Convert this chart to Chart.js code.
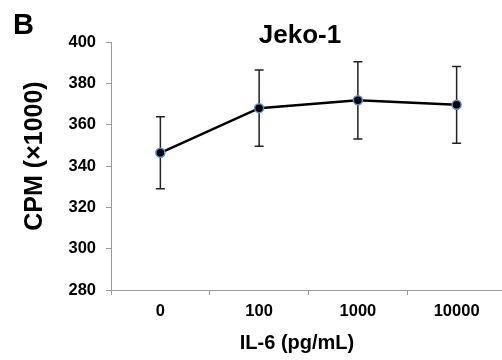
<!DOCTYPE html>
<html>
<head>
<meta charset="utf-8">
<script src="https://cdn.jsdelivr.net/npm/chart.js@4.4.0/dist/chart.umd.min.js"></script>
<style>
  html, body { margin: 0; padding: 0; background: #fff; overflow: hidden; }
  #wrap { width: 502px; height: 360px; overflow: hidden; position: relative; }
  canvas { display: block; }
</style>
</head>
<body>
<div id="wrap"><canvas id="chart" width="512" height="360"></canvas></div>
<script>
  // valores
  const doses = ['0', '100', '1000', '10000'];
  const cpmMean = [346.4, 368.0, 371.8, 369.6];
  const cpmErr = [17.4, 18.5, 18.7, 18.6];
  const yTicks = [280, 300, 320, 340, 360, 380, 400];

  const FONT = '"Liberation Sans", Arial, sans-serif';
  const AXIS_GREY = '#9a9a9a';

  // barras de erro desenhadas pela escala y
  const errorBars = {
    id: 'errorBars',
    beforeDatasetsDraw(chart) {
      const ctx = chart.ctx;
      const x = chart.scales.x;
      const y = chart.scales.y;
      ctx.save();
      ctx.strokeStyle = '#222';
      ctx.lineWidth = 1.5;
      cpmMean.forEach((m, i) => {
        const px = x.getPixelForValue(i);
        const top = y.getPixelForValue(m + cpmErr[i]);
        const bot = y.getPixelForValue(m - cpmErr[i]);
        ctx.beginPath();
        ctx.moveTo(px, top); ctx.lineTo(px, bot);
        ctx.moveTo(px - 4.5, top); ctx.lineTo(px + 4.5, top);
        ctx.moveTo(px - 4.5, bot); ctx.lineTo(px + 4.5, bot);
        ctx.stroke();
      });
      ctx.restore();
    }
  };

  // título, letra do painel e títulos dos eixos (fora do centro, como no original)
  const labels = {
    id: 'labels',
    afterDraw(chart) {
      const ctx = chart.ctx;
      ctx.save();
      ctx.fillStyle = '#000';
      ctx.textBaseline = 'alphabetic';
      ctx.font = 'bold 29px ' + FONT;
      ctx.textAlign = 'left';
      ctx.fillText('B', 13, 34);
      ctx.textAlign = 'center';
      ctx.font = 'bold 26px ' + FONT;
      ctx.fillText('Jeko-1', 300, 43);
      ctx.font = 'bold 20px ' + FONT;
      ctx.fillText('IL-6 (pg/mL)', 297, 349);
      ctx.translate(42, 156);
      ctx.rotate(-Math.PI / 2);
      ctx.font = 'bold 25px ' + FONT;
      ctx.fillText('CPM (×1000)', 0, 0);
      ctx.restore();
    }
  };

  new Chart(document.getElementById('chart'), {
    type: 'line',
    data: {
      labels: doses,
      datasets: [{
        data: cpmMean,
        borderColor: '#000',
        borderWidth: 2.5,
        pointRadius: 4.5,
        pointBackgroundColor: '#000',
        pointBorderColor: '#5b8fd0',
        pointBorderWidth: 1.5,
        tension: 0
      }]
    },
    options: {
      responsive: false,
      devicePixelRatio: 1,
      animation: false,
      layout: { padding: { top: 42, right: 1, bottom: 0, left: 0 } },
      plugins: { legend: { display: false }, tooltip: { enabled: false } },
      scales: {
        x: {
          offset: true,
          grid: { offset: true, drawOnChartArea: false, tickLength: 5, color: AXIS_GREY },
          border: { color: AXIS_GREY, width: 1 },
          ticks: { color: '#000', padding: 7, font: { family: FONT, size: 16.5, weight: 'bold' } },
          afterFit: s => { s.height = 70; }
        },
        y: {
          min: 280, max: 400,
          afterBuildTicks: s => { s.ticks = yTicks.map(v => ({ value: v })); },
          grid: { drawOnChartArea: false, tickLength: 5, color: AXIS_GREY },
          border: { color: AXIS_GREY, width: 1 },
          ticks: { color: '#000', padding: 10, font: { family: FONT, size: 16.5, weight: 'bold' } },
          afterFit: s => { s.width = 111; }
        }
      }
    },
    plugins: [errorBars, labels]
  });
</script>
</body>
</html>
